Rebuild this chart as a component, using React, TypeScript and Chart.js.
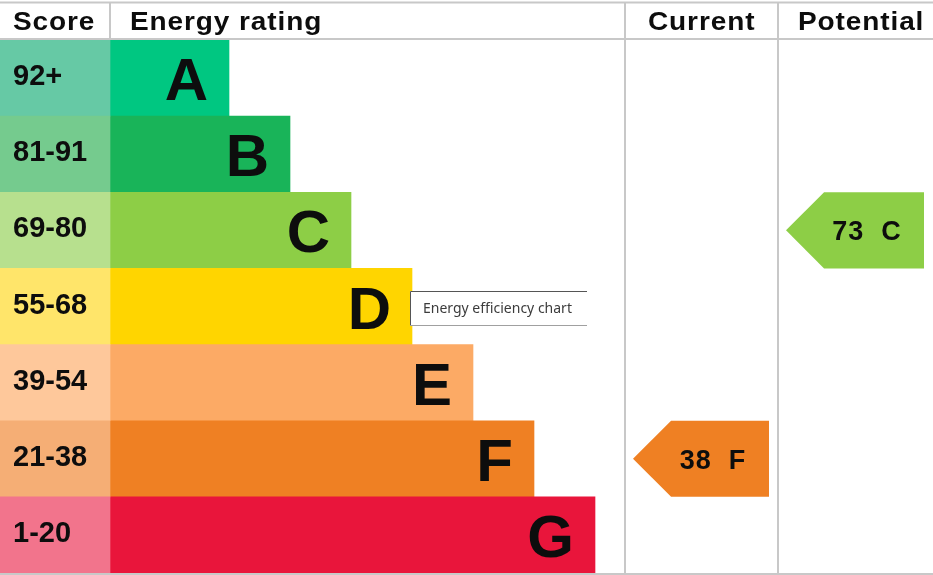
import React, { useEffect, useRef } from "react";
import { Chart, registerables } from "chart.js";

Chart.register(...registerables);

// ---- data ----
const ratings = ["A", "B", "C", "D", "E", "F", "G"];
const scoreBands = ["92+", "81-91", "69-80", "55-68", "39-54", "21-38", "1-20"];
const barLengths = [2, 3, 4, 5, 6, 7, 8];
const barColors = ["#00c781", "#19b459", "#8dce46", "#ffd500", "#fcaa65", "#ef8023", "#e9153b"];
const scoreColors = ["#66c9a5", "#75cb8e", "#b7e08e", "#ffe56a", "#fec89b", "#f5ae75", "#f2748c"];
const headers = ["Score", "Energy rating", "Current", "Potential"];
const currentScore = 38;
const currentRating = "F";
const potentialScore = 73;
const potentialRating = "C";
const tooltipText = "Energy efficiency chart";

// ---- layout ----
const W = 933;
const H = 575;
const HEADER_H = 40;
const SCORE_COL = 110;
const ORIGIN = 107;
const UNIT = 61;
const CUR_L = 625;
const POT_L = 778;
const GRID = "#c8c8c8";
const FONT = '"Liberation Sans", Arial, sans-serif';

const xMin = -ORIGIN / UNIT;
const xMax = (W - ORIGIN) / UNIT;
const ratingBase = (SCORE_COL - ORIGIN) / UNIT;

function drawArrow(chart: any, left: number, right: number, rating: string, score: number) {
  const ctx = chart.ctx;
  const y = chart.scales.y;
  const idx = ratings.indexOf(rating);
  const cy = y.getPixelForValue(idx);
  const half = (y.getPixelForValue(1) - y.getPixelForValue(0)) / 2;
  const tip = left + 8;
  const r = right - 9;
  const shoulder = tip + half;
  ctx.beginPath();
  ctx.moveTo(tip, cy);
  ctx.lineTo(shoulder, cy - half);
  ctx.lineTo(r, cy - half);
  ctx.lineTo(r, cy + half);
  ctx.lineTo(shoulder, cy + half);
  ctx.closePath();
  ctx.fillStyle = barColors[idx];
  ctx.fill();
  ctx.fillStyle = "#0d0d0d";
  ctx.font = `bold 27px ${FONT}`;
  ctx.textAlign = "center";
  ctx.textBaseline = "alphabetic";
  (ctx as any).letterSpacing = "1px";
  ctx.fillText(`${score}  ${rating}`, (shoulder + r) / 2 - 7, cy + 10);
  (ctx as any).letterSpacing = "0px";
}

const epcPlugin = {
  id: "epc",
  afterDraw(chart: any) {
    const ctx = chart.ctx;
    const x = chart.scales.x;
    const y = chart.scales.y;
    ctx.save();

    // grid lines
    ctx.strokeStyle = GRID;
    ctx.lineWidth = 2;
    ctx.beginPath();
    ctx.moveTo(0, 2.5);
    ctx.lineTo(W, 2.5);
    ctx.moveTo(0, HEADER_H - 1);
    ctx.lineTo(W, HEADER_H - 1);
    ctx.moveTo(0, H - 1);
    ctx.lineTo(W, H - 1);
    ctx.moveTo(SCORE_COL, 2);
    ctx.lineTo(SCORE_COL, HEADER_H - 1);
    ctx.moveTo(CUR_L, 2);
    ctx.lineTo(CUR_L, H);
    ctx.moveTo(POT_L, 2);
    ctx.lineTo(POT_L, H);
    ctx.stroke();

    // headers (wide bold face)
    ctx.fillStyle = "#0d0d0d";
    ctx.font = `bold 25px ${FONT}`;
    ctx.textAlign = "left";
    ctx.textBaseline = "alphabetic";
    (ctx as any).letterSpacing = "0.8px";
    const hx = [13, 130, 648, 798];
    headers.forEach((h, i) => {
      ctx.save();
      ctx.translate(hx[i], 29.5);
      ctx.scale(1.12, 1);
      ctx.fillText(h, 0, 0);
      ctx.restore();
    });
    (ctx as any).letterSpacing = "0px";

    // score labels
    ctx.font = `bold 29px ${FONT}`;
    scoreBands.forEach((s, i) => ctx.fillText(s, 13, y.getPixelForValue(i) + 7));

    // rating letters
    ctx.font = `bold 60px ${FONT}`;
    ctx.textAlign = "right";
    ratings.forEach((r, i) => {
      ctx.fillText(r, x.getPixelForValue(barLengths[i]) - 21, y.getPixelForValue(i) + 22);
    });

    // arrows
    drawArrow(chart, CUR_L, POT_L, currentRating, currentScore);
    drawArrow(chart, POT_L, W, potentialRating, potentialScore);

    // tooltip box
    const tx = 410, ty = 291, tw = 177, th = 35;
    ctx.fillStyle = "#ffffff";
    ctx.fillRect(tx, ty, tw, th);
    ctx.lineWidth = 1;
    ctx.strokeStyle = "#555555";
    ctx.beginPath();
    ctx.moveTo(tx + 0.5, ty + th);
    ctx.lineTo(tx + 0.5, ty + 0.5);
    ctx.lineTo(tx + tw, ty + 0.5);
    ctx.stroke();
    ctx.strokeStyle = "#a0a0a0";
    ctx.beginPath();
    ctx.moveTo(tx, ty + th - 0.5);
    ctx.lineTo(tx + tw, ty + th - 0.5);
    ctx.stroke();
    ctx.fillStyle = "#3c3c3c";
    ctx.font = `14px "Noto Sans", "Open Sans", sans-serif`;
    ctx.textAlign = "left";
    ctx.fillText(tooltipText, 423, 313);

    ctx.restore();
  },
};

export default function App() {
  const ref = useRef<HTMLCanvasElement>(null);
  useEffect(() => {
    document.body.style.margin = "0";
    const chart = new Chart(ref.current as HTMLCanvasElement, {
      type: "bar",
      data: {
        labels: ratings,
        datasets: [
          {
            label: "Score",
            data: scoreBands.map(() => [xMin, ratingBase]) as any,
            backgroundColor: scoreColors,
            borderWidth: 0,
            grouped: false,
            barPercentage: 1,
            categoryPercentage: 1,
          } as any,
          {
            label: "Energy rating",
            data: barLengths.map((l) => [ratingBase, l]) as any,
            backgroundColor: barColors,
            borderWidth: 0,
            grouped: false,
            barPercentage: 1,
            categoryPercentage: 1,
          } as any,
        ],
      },
      options: {
        indexAxis: "y",
        animation: false,
        responsive: true,
        maintainAspectRatio: false,
        events: [],
        layout: { padding: { top: HEADER_H, bottom: 2, left: 0, right: 0 } },
        scales: {
          x: { type: "linear", display: false, min: xMin, max: xMax },
          y: { type: "category", display: false },
        },
        plugins: { legend: { display: false }, tooltip: { enabled: false } },
      },
      plugins: [epcPlugin],
    });
    return () => chart.destroy();
  }, []);
  return (
    <div style={{ position: "fixed", left: 0, top: 0, width: W, height: H, background: "#ffffff" }}>
      <canvas ref={ref} style={{ display: "block" }} />
    </div>
  );
}
